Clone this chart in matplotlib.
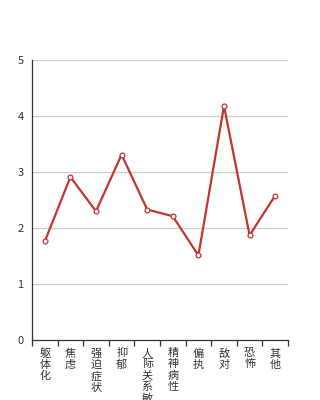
import matplotlib
matplotlib.use("Agg")
import matplotlib.pyplot as plt
import numpy as np

plt.rcParams['font.family'] = ['Noto Sans CJK SC', 'DejaVu Sans']

categories = ['躯体化', '焦虑', '强迫症状', '抑郁', '人际关系敏感', '精神病性', '偏执', '敌对', '恐怖', '其他']
values = [1.76, 2.91, 2.30, 3.31, 2.33, 2.21, 1.51, 4.18, 1.87, 2.58]
y_ticks = [0, 1, 2, 3, 4, 5]

fig = plt.figure(figsize=(3.2, 4.0), dpi=100)
ax = fig.add_axes([0.1, 0.15, 0.8, 0.70])

x = np.arange(len(categories))
ax.plot(x, values, color='#c23531', lw=1.6, marker='o', ms=3.5,
        mfc='white', mec='#c23531', mew=0.9, zorder=3)

ax.set_xlim(-0.5, len(categories) - 0.5)
ax.set_ylim(0, 5)
ax.set_yticks(y_ticks)
ax.set_yticklabels([str(v) for v in y_ticks], fontsize=8, color='#333333')
ax.tick_params(axis='y', length=0, pad=6)
for v in y_ticks[1:]:
    ax.axhline(v, color='#cccccc', lw=0.9, zorder=1)

ax.set_xticks(np.arange(len(categories) + 1) - 0.5, minor=False)
ax.set_xticklabels([''] * (len(categories) + 1))
ax.tick_params(axis='x', length=4, width=0.9, color='#333333', direction='out')
ax.set_xticks(x, minor=True)
ax.set_xticklabels(['\n'.join(c) for c in categories], minor=True,
                   fontsize=8, color='#333333', linespacing=1.12, va='top')
ax.tick_params(axis='x', which='minor', length=0, pad=6)

for s in ['top', 'right']:
    ax.spines[s].set_visible(False)
for s in ['left', 'bottom']:
    ax.spines[s].set_color('#333333')
    ax.spines[s].set_linewidth(0.9)

fig.savefig('out.png', dpi=100)
